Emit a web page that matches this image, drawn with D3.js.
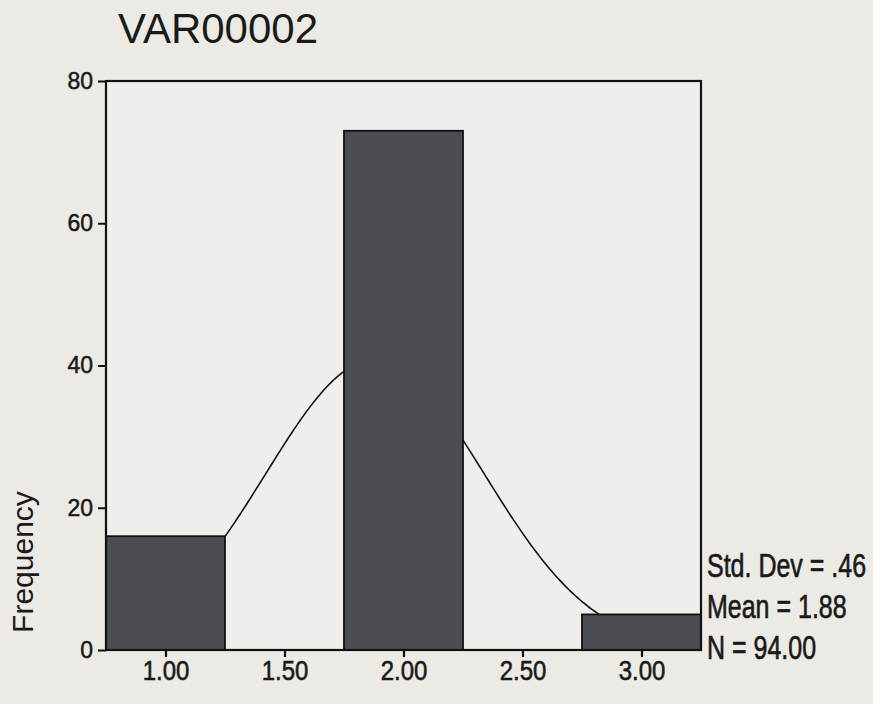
<!DOCTYPE html>
<html>
<head>
<meta charset="utf-8">
<script src="https://cdn.jsdelivr.net/npm/d3@7/dist/d3.min.js"></script>
<style>
  html, body { margin: 0; padding: 0; background: #ebeae5; }
  svg { display: block; }
  text { font-family: "Liberation Sans", Arial, sans-serif; fill: #1a1a1a; }
</style>
</head>
<body>
<svg id="chart" width="873" height="704"></svg>
<script>
// Histogram data
const binCenters = [1.00, 2.00, 3.00];
const binCounts = [16, 73, 5];
const binWidth = 0.5;
const xTicks = [1.00, 1.50, 2.00, 2.50, 3.00];
const yTicks = [0, 20, 40, 60, 80];
const title = "VAR00002";
const yLabel = "Frequency";
// Summary statistics printed beside the plot
const statStd = 0.46;
const statMean = 1.88;
const statN = 94;
const statLines = ["Std. Dev = .46", "Mean = 1.88", "N = 94.00"];

const svg = d3.select("#chart");
const m = { left: 106, right: 701, top: 81, bottom: 650 };

const x = d3.scaleLinear().domain([0.75, 3.25]).range([m.left, m.right]);
const y = d3.scaleLinear().domain([0, 80]).range([m.bottom, m.top]);

// Plot background
svg.append("rect")
  .attr("x", m.left).attr("y", m.top)
  .attr("width", m.right - m.left).attr("height", m.bottom - m.top)
  .attr("fill", "#efeeea");

svg.append("clipPath").attr("id", "plotClip")
  .append("rect")
  .attr("x", m.left).attr("y", m.top)
  .attr("width", m.right - m.left).attr("height", m.bottom - m.top);

// Normal curve scaled to the histogram: N * binWidth * pdf
const pdf = v => Math.exp(-0.5 * Math.pow((v - statMean) / statStd, 2)) / (statStd * Math.sqrt(2 * Math.PI));
const curveX = d3.range(0.75, 3.2501, 0.01);
const line = d3.line()
  .x(v => x(v))
  .y(v => y(statN * binWidth * pdf(v)))
  .curve(d3.curveMonotoneX);

svg.append("path")
  .datum(curveX)
  .attr("clip-path", "url(#plotClip)")
  .attr("d", line)
  .attr("fill", "none")
  .attr("stroke", "#111")
  .attr("stroke-width", 1.6);

// Bars
svg.selectAll("rect.bar")
  .data(binCenters.map((c, i) => ({ c, n: binCounts[i] })))
  .join("rect")
  .attr("class", "bar")
  .attr("x", d => x(d.c - binWidth / 2))
  .attr("y", d => y(d.n))
  .attr("width", d => x(d.c + binWidth / 2) - x(d.c - binWidth / 2))
  .attr("height", d => y(0) - y(d.n))
  .attr("fill", "#4b4d53")
  .attr("stroke", "#111")
  .attr("stroke-width", 1.8);

// Frame
svg.append("rect")
  .attr("x", m.left).attr("y", m.top)
  .attr("width", m.right - m.left).attr("height", m.bottom - m.top)
  .attr("fill", "none")
  .attr("stroke", "#111")
  .attr("stroke-width", 2.2);

// Axes
const yAxis = d3.axisLeft(y).tickValues(yTicks).tickSize(8).tickPadding(5).tickFormat(d3.format("d"));
const gy = svg.append("g").attr("transform", `translate(${m.left},0)`).call(yAxis);
gy.select(".domain").remove();
gy.selectAll("line").attr("stroke", "#111").attr("stroke-width", 2);
gy.selectAll("text").attr("font-size", 23).attr("fill", "#1a1a1a")
  .attr("stroke", "#1a1a1a").attr("stroke-width", 0.5)
  .style("font-family", "'Liberation Sans', Arial, sans-serif");

const xAxis = d3.axisBottom(x).tickValues(xTicks).tickSize(7).tickPadding(6).tickFormat(d3.format(".2f"));
const gx = svg.append("g").attr("transform", `translate(0,${m.bottom})`).call(xAxis);
gx.select(".domain").remove();
gx.selectAll("line").attr("stroke", "#111").attr("stroke-width", 2.2);
gx.selectAll("g.tick").each(function () {
  // slightly tall label glyphs
  const t = d3.select(this).select("text");
  t.attr("y", 0).attr("dy", null)
    .attr("transform", "translate(0,30) scale(1,1.15)")
    .attr("font-size", 24)
    .attr("fill", "#1a1a1a")
    .attr("stroke", "#1a1a1a").attr("stroke-width", 0.5)
    .style("font-family", "'Liberation Sans', Arial, sans-serif");
});

// Title
svg.append("text")
  .attr("x", 118).attr("y", 43)
  .attr("font-size", 42)
  .attr("fill", "#222")
  .text(title);

// Y axis label
svg.append("text")
  .attr("transform", "translate(33,562) rotate(-90)")
  .attr("text-anchor", "middle")
  .attr("font-size", 30)
  .text(yLabel);

// Statistics
svg.selectAll("text.stat")
  .data(statLines)
  .join("text")
  .attr("class", "stat")
  .attr("transform", (d, i) => `translate(707,${577 + i * 41}) scale(1,1.3)`)
  .attr("font-size", 25)
  .attr("stroke", "#1a1a1a").attr("stroke-width", 0.5)
  .text(d => d);
</script>
</body>
</html>
